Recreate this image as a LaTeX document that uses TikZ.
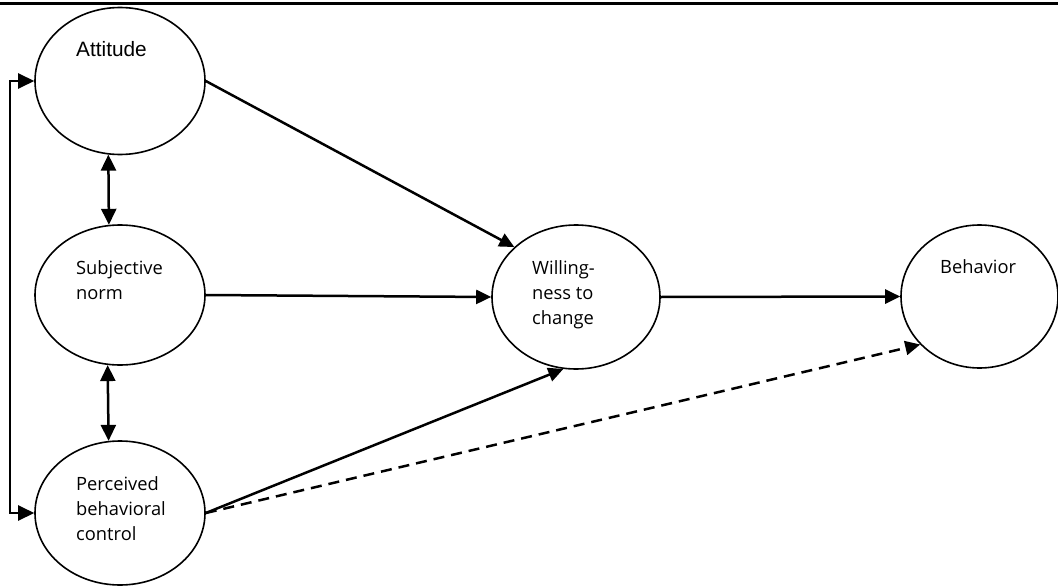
\documentclass[tikz,border=0pt]{standalone}
\usepackage{fontspec}
\setmainfont{Open Sans}
\newfontfamily\arialfont{Liberation Sans}
\usetikzlibrary{arrows.meta,shapes.geometric}
\begin{document}
\begin{tikzpicture}[x=1pt,y=-1pt,
  oval/.style={draw,ellipse,line width=1.6pt,inner sep=0pt},
  lbl/.style={anchor=base west,inner sep=0pt,font=\fontsize{18.3}{25}\selectfont},
  conn/.style={line width=2.5pt,-{Triangle[length=15pt,width=14pt]}},
  biconn/.style={line width=2.5pt,{Triangle[length=16pt,width=15pt]}-{Triangle[length=16pt,width=15pt]}},
  dashconn/.style={conn,dash pattern=on 11pt off 7pt}]
\useasboundingbox (0,0) rectangle (1058,586);
\draw[line width=3pt] (0,4) -- (1058,4);
% ellipses
\node[oval,minimum width=170pt,minimum height=147pt] (att) at (120,81) {};
\node[oval,minimum width=170pt,minimum height=140pt] (sn) at (120,295) {};
\node[oval,minimum width=170pt,minimum height=144pt] (pbc) at (120,513) {};
\node[oval,minimum width=168pt,minimum height=144pt] (wil) at (576,297) {};
\node[oval,minimum width=157pt,minimum height=143pt] (beh) at (979.5,296.5) {};
% labels
\node[anchor=base west,inner sep=0pt,font=\arialfont\fontsize{20.8}{24}\selectfont] (attt) at (76,57) {Attitude};
\node[lbl] (snt1) at (76,274) {Subjective};
\node[lbl] (snt2) at (76,299) {norm};
\node[lbl] (pbct1) at (76,490) {Perceived};
\node[lbl] (pbct2) at (76,515) {behavioral};
\node[lbl] (pbct3) at (76,540) {control};
\node[lbl] (wilt1) at (532,274) {Willing-};
\node[lbl] (wilt2) at (532,299) {ness to};
\node[lbl] (wilt3) at (532,324) {change};
\node[lbl] (beht) at (940,273) {Behavior};
% connectors
\draw[conn] (att.east) -- (wil.141);
\draw[conn] (sn.east) -- (wil.west);
\draw[conn] (pbc.east) -- (wil.260);
\draw[dashconn] (pbc.east) -- (beh.219.6);
\draw[conn] (wil.east) -- (beh.west);
\draw[biconn] (att.261) -- (sn.99.7);
\draw[biconn] (sn.260.3) -- (pbc.99.5);
\draw[biconn] (att.west) -- ++(-24,0) |- (pbc.west);
\end{tikzpicture}
\end{document}
